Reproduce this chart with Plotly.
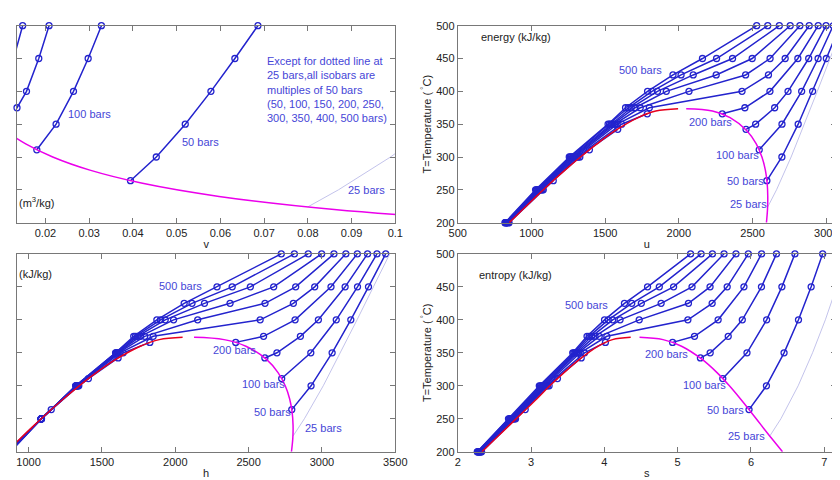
import plotly.graph_objects as go

# pressures (bars) of the isobars
pressures = [50, 100, 150, 200, 250, 300, 350, 400, 450, 500]

# isobar data: temperature (C), v (m3/kg), u, h (kJ/kg), s (kJ/kg K); None splits liquid / vapour
T_iso = {
    50: [200, 250, 263.9, None, 263.9, 300, 350, 400, 450, 500],
    100: [200, 250, 300, 311.0, None, 311.0, 350, 400, 450, 500],
    150: [200, 250, 300, 342.2, None, 342.2, 350, 375, 400, 450, 500],
    200: [200, 250, 300, 350, 365.8, None, 365.8, 375, 400, 450, 500],
}
T_super = [200, 250, 300, 350, 375, 400, 425, 450, 500]
for p in [250, 300, 350, 400, 450, 500]:
    T_iso[p] = T_super

v_iso = {
    50: [0.001153, 0.001252, 0.001286, None, 0.03945, 0.04535, 0.05197, 0.05784, 0.06332, 0.06858],
    100: [0.001148, 0.001245, 0.001397, 0.001452, None, 0.01803, 0.02244, 0.02642, 0.02977, 0.03280],
    150: [0.001144, 0.001238, 0.001378, 0.001657, None, 0.01034, 0.01148, 0.01350, 0.01567, 0.01848, 0.02083],
    200: [0.001139, 0.001232, 0.001361, 0.001665, 0.002038, None, 0.005862, 0.007681, 0.009950, 0.01272, 0.01479],
    250: [0.001135, 0.001226, 0.001345, 0.001600, 0.001978, 0.006005, 0.007886, 0.009176, 0.011143],
    300: [0.001130, 0.001220, 0.001330, 0.001554, 0.001792, 0.002798, 0.005299, 0.006737, 0.008691],
    350: [0.001126, 0.001214, 0.001317, 0.001520, 0.001701, 0.002105, 0.003434, 0.004957, 0.006933],
    400: [0.001122, 0.001209, 0.001305, 0.001493, 0.001641, 0.001911, 0.002538, 0.003692, 0.005623],
    450: [0.001118, 0.001204, 0.001294, 0.001471, 0.001597, 0.001804, 0.002197, 0.002928, 0.004636],
    500: [0.001115, 0.001199, 0.001287, 0.001452, 0.001560, 0.001731, 0.002009, 0.002487, 0.003890],
}
u_iso = {
    50: [848.1, 1080.4, 1148.1, None, 2597.0, 2699.0, 2809.5, 2907.5, 3000.6, 3091.8],
    100: [844.5, 1073.4, 1328.4, 1393.3, None, 2545.2, 2699.6, 2833.1, 2944.5, 3047.0],
    150: [840.9, 1066.8, 1316.6, 1585.5, None, 2455.7, 2520.9, 2650, 2740.6, 2880.8, 2998.4],
    200: [837.7, 1060.7, 1306.0, 1612, 1785.8, None, 2294.8, 2448, 2617.9, 2807.3, 2945.3],
    250: [834.6, 1054.8, 1296, 1582, 1799.9, 2428.5, 2607.8, 2721.2, 2884.3],
    300: [831.6, 1049.1, 1287.9, 1565, 1738.1, 2068.9, 2452.9, 2618.9, 2821.0],
    350: [828.6, 1043.6, 1280, 1552, 1702.8, 1914.9, 2253.3, 2497.5, 2755.3],
    400: [825.8, 1038.3, 1272, 1540, 1677.0, 1855.0, 2097.5, 2364.2, 2681.6],
    450: [823.2, 1033.2, 1264, 1530, 1656.5, 1818, 2015, 2256, 2603],
    500: [820.8, 1028.2, 1256.7, 1520, 1638.6, 1787.8, 1960.3, 2160.3, 2528.1],
}
h_iso = {
    50: [853.9, 1086.6, 1154.5, None, 2794.2, 2925.7, 3069.3, 3196.7, 3317.2, 3434.7],
    100: [856.0, 1085.8, 1342.3, 1407.9, None, 2725.5, 2924.0, 3097.5, 3242.4, 3375.1],
    150: [858.1, 1085.4, 1337.3, 1610.3, None, 2610.8, 2693.1, 2853, 2975.7, 3157.9, 3310.8],
    200: [860.5, 1085.3, 1333.4, 1645, 1826.6, None, 2412.1, 2602, 2816.9, 3061.7, 3241.2],
    250: [863, 1085.5, 1329.6, 1623, 1849.4, 2578.7, 2805.0, 2950.6, 3162.9],
    300: [865.2, 1085.7, 1327.8, 1611, 1791.9, 2152.8, 2611.8, 2821.0, 3081.7],
    350: [868, 1086, 1326, 1605, 1762.4, 1988.6, 2373.5, 2671.0, 2997.9],
    400: [870.7, 1086.7, 1324, 1600, 1742.6, 1931.4, 2199.0, 2511.8, 2906.5],
    450: [873.5, 1087.4, 1322, 1596, 1728.4, 1899, 2114, 2388, 2812],
    500: [876.5, 1088.1, 1321.0, 1593, 1716.6, 1874.4, 2060.7, 2284.7, 2722.6],
}
s_iso = {
    50: [2.3255, 2.7892, 2.9207, None, 5.9737, 6.2111, 6.4516, 6.6483, 6.8210, 6.9781],
    100: [2.3178, 2.7770, 3.2468, 3.3603, None, 5.6160, 5.9459, 6.2141, 6.4219, 6.5995],
    150: [2.3104, 2.7650, 3.2259, 3.6848, None, 5.3108, 5.4438, 5.69, 5.8819, 6.1434, 6.3480],
    200: [2.3031, 2.7537, 3.2071, 3.73, 4.0146, None, 4.9310, 5.23, 5.5525, 5.9043, 6.1446],
    250: [2.296, 2.743, 3.190, 3.672, 4.0344, 5.1399, 5.4707, 5.6759, 5.9642],
    300: [2.2893, 2.7324, 3.1733, 3.640, 3.9305, 4.4758, 5.1473, 5.4422, 5.7956],
    350: [2.283, 2.722, 3.158, 3.620, 3.8724, 4.2144, 4.7747, 5.1962, 5.6331],
    400: [2.276, 2.712, 3.144, 3.600, 3.8290, 4.1145, 4.5044, 4.9449, 5.4744],
    450: [2.270, 2.702, 3.128, 3.584, 3.793, 4.053, 4.374, 4.75, 5.32],
    500: [2.2675, 2.6926, 3.1130, 3.569, 3.7642, 4.0029, 4.2746, 4.5896, 5.1762],
}

# 25 bar isobar (dotted / faint line)
T_25 = [223.95, 250, 300, 350, 400, 450, 500]
v_25 = [0.07998, 0.08700, 0.09890, 0.10976, 0.12010, 0.13014, 0.13993]
u_25 = [2603.1, 2662.6, 2761.6, 2851.9, 2939.1, 3025.5, 3112.1]
h_25 = [2803.1, 2880.1, 3008.8, 3126.3, 3239.3, 3350.8, 3462.1]
s_25 = [6.2575, 6.4085, 6.6438, 6.8403, 7.0148, 7.1746, 7.3234]

# saturation dome
T_sat = [200, 220, 240, 260, 280, 300, 320, 340, 360, 370, 373.5]
vf = [0.001157, 0.001190, 0.001229, 0.001276, 0.001332, 0.001404, 0.001499, 0.001638, 0.001895, 0.002217, 0.0025]
vg = [0.12721, 0.08605, 0.05970, 0.04220, 0.03017, 0.02167, 0.01549, 0.01080, 0.006950, 0.004953, 0.0036]
uf = [850.5, 940.9, 1033.4, 1128.5, 1227.5, 1332.7, 1444.4, 1567.9, 1723.4, 1843.6, 1995]
ug = [2594.2, 2601.3, 2603.1, 2599.1, 2586.9, 2563.6, 2525.2, 2461.5, 2347.6, 2228.0, 2050]
hf = [852.3, 943.6, 1037.5, 1134.8, 1236.7, 1345.0, 1462.0, 1594.5, 1761.5, 1890.7, 2050]
hg = [2792.0, 2801.1, 2803.0, 2796.6, 2779.9, 2749.6, 2700.6, 2622.0, 2481.5, 2332.9, 2128]
sf = [2.3305, 2.5164, 2.7029, 2.8897, 3.0774, 3.2552, 3.4500, 3.6616, 3.9167, 4.1112, 4.36]
sg = [6.4302, 6.2840, 6.1423, 6.0019, 5.8578, 5.7059, 5.5372, 5.3345, 5.0536, 4.8012, 4.48]

BLUE = "rgb(35,35,205)"
TXT = "rgb(70,70,215)"
FONT = "Liberation Sans, Arial, sans-serif"

fig = go.Figure()

panels = [
    ("x", "y", v_iso, v_25, vf, vg),
    ("x2", "y2", u_iso, u_25, uf, ug),
    ("x3", "y3", h_iso, h_25, hf, hg),
    ("x4", "y4", s_iso, s_25, sf, sg),
]
for xa, ya, iso, x25, xf, xg in panels:
    for p in pressures:
        fig.add_trace(go.Scatter(
            x=iso[p], y=T_iso[p], xaxis=xa, yaxis=ya, mode="lines+markers", cliponaxis=False,
            line=dict(color=BLUE, width=1.5),
            marker=dict(symbol="circle-open", size=6, color=BLUE, line=dict(width=1.3)),
            showlegend=False))
    fig.add_trace(go.Scatter(x=x25, y=T_25, xaxis=xa, yaxis=ya, mode="lines",
                             line=dict(color="rgb(195,195,235)", width=1), showlegend=False))
    fig.add_trace(go.Scatter(x=xf, y=T_sat, xaxis=xa, yaxis=ya, mode="lines", line_shape="spline",
                             line=dict(color="rgb(230,0,30)", width=1.5), showlegend=False))
    fig.add_trace(go.Scatter(x=xg, y=T_sat, xaxis=xa, yaxis=ya, mode="lines", line_shape="spline",
                             line=dict(color="rgb(235,0,235)", width=1.5), showlegend=False))

W, H = 840, 480
ax = dict(showline=True, mirror="ticks", linecolor="rgb(120,120,120)", ticks="inside",
          ticklen=5, tickcolor="rgb(120,120,120)", showgrid=False, zeroline=False,
          tickfont=dict(size=11, color="#222"), title_font=dict(size=11, color="#222"),
          title_standoff=2)
dl = [0, 388 / W]
dr = [452 / W, 1]
dt = [1 - 214 / H, 1 - 12 / H]
db = [1 - 449 / H, 1 - 246 / H]
ytitle = "T=Temperature (<sup> °</sup>C)"

fig.update_layout(
    width=W, height=H, margin=dict(l=0, r=0, t=0, b=0),
    paper_bgcolor="white", plot_bgcolor="white", font=dict(family=FONT),
    xaxis=dict(ax, domain=dl, anchor="y", range=[0.0135, 0.1], dtick=0.01, title_text="v"),
    yaxis=dict(ax, domain=dt, anchor="x", range=[200, 500], dtick=50, showticklabels=False),
    xaxis2=dict(ax, domain=dr, anchor="y2", range=[500, 3066], dtick=500, title_text="u"),
    yaxis2=dict(ax, domain=dt, anchor="x2", range=[200, 500], dtick=50, title_text=ytitle),
    xaxis3=dict(ax, domain=dl, anchor="y3", range=[921, 3500], dtick=500, title_text="h"),
    yaxis3=dict(ax, domain=db, anchor="x3", range=[200, 500], dtick=50, showticklabels=False),
    xaxis4=dict(ax, domain=dr, anchor="y4", range=[2, 7.16], dtick=1, title_text="s"),
    yaxis4=dict(ax, domain=db, anchor="x4", range=[200, 500], dtick=50, title_text=ytitle),
)

def note(xref, yref, x, y, text, color=TXT, xanchor="center", align="center"):
    fig.add_annotation(x=x, y=y, xref=xref, yref=yref, text=text, showarrow=False,
                       font=dict(size=11, color=color, family=FONT), xanchor=xanchor, align=align)

# top-left (specific volume)
note("x", "y", 0.0300, 366, "100 bars")
note("x", "y", 0.0554, 323, "50 bars")
note("x", "y", 0.0935, 249, "25 bars")
note("x", "y", 0.0703, 403,
     "Except for dotted line at<br>25 bars,all isobars are<br>multiples of 50 bars<br>"
     "(50, 100, 150, 200, 250,<br>300, 350, 400, 500 bars)", xanchor="left", align="left")
note("x", "y", 0.0136, 232, "(m<sup>3</sup>/kg)", color="#222", xanchor="left")
# top-right (internal energy)
note("x2", "y2", 644, 483, "energy (kJ/kg)", color="#222", xanchor="left")
note("x2", "y2", 1740, 433, "500 bars")
note("x2", "y2", 2218, 354, "200 bars")
note("x2", "y2", 2396, 303, "100 bars")
note("x2", "y2", 2451, 264, "50 bars")
note("x2", "y2", 2473, 229, "25 bars")
# bottom-left (enthalpy)
note("x3", "y3", 922, 469, "(kJ/kg)", color="#222", xanchor="left")
note("x3", "y3", 2035, 451, "500 bars")
note("x3", "y3", 2405, 355, "200 bars")
note("x3", "y3", 2604, 303, "100 bars")
note("x3", "y3", 2664, 260, "50 bars")
note("x3", "y3", 3013, 236, "25 bars")
# bottom-right (entropy)
note("x4", "y4", 2.27, 468, "entropy (kJ/kg)", color="#222", xanchor="left")
note("x4", "y4", 3.76, 423, "500 bars")
note("x4", "y4", 4.85, 348, "200 bars")
note("x4", "y4", 5.36, 301, "100 bars")
note("x4", "y4", 5.65, 263, "50 bars")
note("x4", "y4", 5.94, 224, "25 bars")

fig.write_html("out.html")
